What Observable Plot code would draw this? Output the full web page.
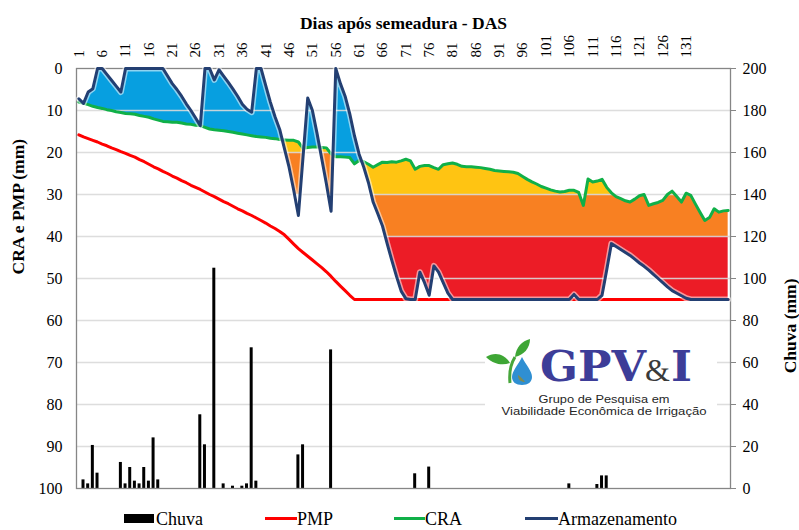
<!DOCTYPE html>
<html>
<head>
<meta charset="utf-8">
<script src="https://cdn.jsdelivr.net/npm/d3@7"></script>
<script src="https://cdn.jsdelivr.net/npm/@observablehq/plot@0.6"></script>
<style>
  body { margin: 0; background: #fff; }
  #wrap { position: relative; width: 799px; height: 530px; overflow: hidden; background: #fff;
          font-family: 'Liberation Serif', 'Times New Roman', serif; }
  #wrap svg.plot { position: absolute; left: 0; top: 0; }
  #logo { position: absolute; left: 485px; top: 337px; width: 232px; height: 84px; background: #fff; }
  .lt { position: absolute; top: 509px; font-size: 18px; line-height: 20px; color: #000; white-space: nowrap; }
  .lm { position: absolute; }
</style>
</head>
<body>
<div id="wrap"></div>
<script>
// ---------- data ----------
const dias = d3.range(1, 141); // Dias após semeadura (DAS)

const armazenamento = [
  7.2, 8.3, 5.6, 4.8, 0, 0, 1.4, 2.8, 4.2, 5.6,
  0, 0, 0, 0, 0, 0, 0, 0, 0, 1.8,
  3.6, 5.0, 6.6, 8.4, 10.0, 11.8, 13.6, 0, 0, 2.7,
  0.3, 1.8, 3.3, 4.9, 6.6, 8.5, 9.7, 10.4, 0, 0,
  4.0, 8.0, 11.5, 14.5, 19.0, 23.5, 29.0, 35.0, 21.0, 7.0,
  10.0, 15.5, 21.5, 27.5, 34.0, 0, 3.6, 6.6, 10.8, 16.0,
  20.4, 23.5, 27.2, 31.8, 34.6, 37.5, 41.7, 45.7, 49.5, 53.0,
  54.8, 55, 55, 48.5, 51.0, 54.0, 47.0, 48.5, 51.0, 53.5,
  55, 55, 55, 55, 55, 55, 55, 55, 55, 55,
  55, 55, 55, 55, 55, 55, 55, 55, 55, 55,
  55, 55, 55, 55, 55, 55, 53.8, 55, 55, 55,
  55, 55, 54.0, 48.0, 41.7, 42.4, 43.1, 43.8, 44.5, 45.4,
  46.3, 47.1, 48.0, 49.0, 50.0, 51.0, 52.0, 52.9, 53.5, 54.1,
  54.7, 55, 55, 55, 55, 55, 55, 55, 55, 55
];

const cra = [
  8.0, 8.3, 8.6, 9.0, 9.3, 9.5, 9.8, 10.0, 10.3, 10.5,
  10.7, 10.8, 10.9, 11.2, 11.4, 11.6, 12.0, 12.3, 12.6, 12.7,
  12.8, 12.8, 13.0, 13.2, 13.3, 13.5, 13.6, 14.0, 14.4, 14.6,
  14.7, 14.8, 15.0, 15.2, 15.4, 15.6, 15.8, 16.0, 16.2, 16.3,
  16.4, 16.6, 16.7, 16.9, 17.0, 17.1, 17.1, 17.5, 19.0, 18.8,
  18.7, 18.7, 18.8, 18.9, 20.3, 21.0, 21.0, 21.1, 21.2, 22.7,
  21.9, 22.2, 22.8, 23.5, 22.9, 22.3, 22.4, 22.2, 22.3, 22.0,
  21.6, 22.0, 24.0, 23.3, 23.1, 23.1, 23.6, 24.0, 22.9, 22.7,
  22.5, 22.8, 23.3, 23.4, 23.4, 23.5, 23.6, 23.8, 24.0, 24.3,
  24.4, 24.5, 24.6, 24.7, 25.0, 25.7, 26.4, 27.0, 27.5, 28.1,
  28.5, 28.9, 29.2, 29.4, 29.3, 29.0, 29.0, 29.5, 32.6, 26.3,
  27.0, 26.8, 26.4, 28.3, 29.6, 30.5, 31.0, 31.5, 31.8, 31.1,
  30.3, 30.0, 32.6, 32.2, 31.9, 31.4, 30.0, 29.2, 30.5, 31.8,
  29.7, 30.2, 32.3, 34.3, 36.2, 35.5, 33.4, 34.2, 33.9, 33.8
];

const pmp = [
  15.8, 16.3, 16.7, 17.1, 17.5, 18.0, 18.4, 18.9, 19.3, 19.8,
  20.2, 20.7, 21.1, 21.7, 22.2, 22.8, 23.4, 23.9, 24.5, 25.0,
  25.6, 26.1, 26.7, 27.2, 27.8, 28.3, 28.8, 29.4, 30.0, 30.5,
  31.1, 31.7, 32.2, 32.8, 33.4, 33.9, 34.5, 35.0, 35.6, 36.2,
  36.8, 37.5, 38.1, 38.8, 39.6, 40.7, 41.8, 42.9, 43.8, 44.7,
  45.6, 46.5, 47.4, 48.4, 49.5, 50.7, 51.8, 52.9, 54.0, 55,
  55, 55, 55, 55, 55, 55, 55, 55, 55, 55,
  55, 55, 55, 55, 55, 55, 55, 55, 55, 55,
  55, 55, 55, 55, 55, 55, 55, 55, 55, 55,
  55, 55, 55, 55, 55, 55, 55, 55, 55, 55,
  55, 55, 55, 55, 55, 55, 55, 55, 55, 55,
  55, 55, 55, 55, 55, 55, 55, 55, 55, 55,
  55, 55, 55, 55, 55, 55, 55, 55, 55, 55,
  55, 55, 55, 55, 55, 55, 55, 55, 55, 55
];

const chuvaDias = [2, 3, 4, 5, 10, 11, 12, 13, 14, 15, 16, 17, 18, 27, 28, 30, 32, 34, 36, 37, 38, 39, 48, 49, 55, 73, 76, 106, 112, 113, 114];
const chuvaMm   = [4.1, 2.2, 20.5, 7.3, 12.4, 2.2, 10, 3.5, 2.2, 10, 3.5, 24.1, 4.1, 35.1, 20.8, 104.9, 2.2, 1.1, 1.1, 2.2, 67, 3.5, 16, 20.8, 66, 7, 10.2, 2.2, 1.9, 6, 6];

// water-stress bands (mm, left axis): phase 1 up to day 57, phase 2 afterwards
const fimFase1 = 57;
const limAmarelo = [20, 30];
const limLaranja = [30, 40];

const ticksDAS = [1, 6, 11, 16, 21, 26, 31, 36, 41, 46, 51, 56, 61, 66, 71, 76, 81, 86, 91, 96, 101, 106, 111, 116, 121, 126, 131];
const ticksEsq = [0, 10, 20, 30, 40, 50, 60, 70, 80, 90, 100];
const ticksDir = [0, 20, 40, 60, 80, 100, 120, 140, 160, 180, 200];

// ---------- derived tables ----------
const serie = dias.map((d, i) => ({dia: d, arm: armazenamento[i], cra: cra[i], pmp: pmp[i]}));
const chuva = chuvaDias.map((d, i) => ({dia: d, mm: chuvaMm[i]}));
const chuvaParaEsq = mm => 100 - mm / 2; // right axis (0–200, up) onto left axis (0–100, down)

// fill geometry: split each daily segment where lines cross, so the fills follow the lines
const rows = [];
for (let i = 0; i < dias.length; i++) {
  const ts = [0];
  const j = Math.min(i + 1, dias.length - 1);
  if (i < dias.length - 1) {
    const f = dias[i] <= fimFase1 ? 0 : 1;
    const fns = [armazenamento, cra, pmp].map(a => [a[i], a[j]]);
    fns.push([limAmarelo[f], limAmarelo[f]], [limLaranja[f], limLaranja[f]]);
    for (let a = 0; a < fns.length; a++) for (let b = a + 1; b < fns.length; b++) {
      const f0 = fns[a][0] - fns[b][0], f1 = fns[a][1] - fns[b][1];
      if (f0 * f1 < 0) ts.push(f0 / (f0 - f1));
    }
    ts.sort((p, q) => p - q);
  }
  for (const t of ts) {
    const L = a => a[i] + (a[j] - a[i]) * t;
    rows.push({x: dias[i] + t, A: L(armazenamento), C: L(cra), P: L(pmp)});
  }
}
const bands = rows.map(r => {
  const f = r.x <= fimFase1 + 0.5 ? 0 : 1;
  const t1 = limAmarelo[f], t2 = limLaranja[f], piso = f === 0 ? t2 : r.P;
  const yLo = r.C, yHi = Math.max(r.C, Math.min(r.A, t1));
  const oLo = Math.max(r.C, t1), oHi = Math.max(oLo, Math.min(r.A, t2));
  const rLo = Math.max(r.C, t2), rHi = Math.max(rLo, Math.min(r.A, piso));
  return {x: r.x, bLo: Math.min(r.A, r.C), bHi: r.C, yLo, yHi, oLo, oHi, rLo, rHi};
});

const serif = "'Liberation Serif', 'Times New Roman', serif";

const chart = Plot.plot({
  width: 799,
  height: 500,
  marginTop: 68,
  marginBottom: 12,
  marginLeft: 76,
  marginRight: 69,
  x: {domain: [0.5, 140.5], axis: null},
  y: {domain: [0, 100], reverse: true, axis: null},
  style: {fontFamily: serif, fontSize: "16px", color: "#000", background: "transparent", overflow: "visible"},
  marks: [
    // fills
    Plot.areaY(bands, {x: "x", y1: "bLo", y2: "bHi", fill: "#079fe0"}),
    Plot.areaY(bands, {x: "x", y1: "yLo", y2: "yHi", fill: "#ffc412"}),
    Plot.areaY(bands, {x: "x", y1: "oLo", y2: "oHi", fill: "#f88022"}),
    Plot.areaY(bands, {x: "x", y1: "rLo", y2: "rHi", fill: "#ec1c26"}),
    // grid
    Plot.gridY(ticksEsq.filter(v => v > 0 && v < 100), {stroke: "#d9d9d9", strokeOpacity: 0.9, strokeWidth: 1.3}),
    // rain bars
    Plot.rect(chuva, {x1: d => d.dia - 0.32, x2: d => d.dia + 0.32, y1: () => 100, y2: d => chuvaParaEsq(d.mm), fill: "#000"}),
    Plot.frame({stroke: "#868686", strokeWidth: 1.3}),
    // lines
    Plot.line(serie, {x: "dia", y: "pmp", stroke: "#ff0000", strokeWidth: 3, strokeLinejoin: "round"}),
    Plot.line(serie, {x: "dia", y: "cra", stroke: "#10b048", strokeWidth: 3, strokeLinejoin: "round"}),
    Plot.line(serie, {x: "dia", y: "arm", stroke: "#ffffff", strokeOpacity: 0.55, strokeWidth: 6, strokeLinejoin: "round"}),
    Plot.line(serie, {x: "dia", y: "arm", stroke: "#233f72", strokeWidth: 3, strokeLinejoin: "round"}),
    // axes
    Plot.text(ticksDAS, {x: d => d, frameAnchor: "top", dy: -11, rotate: -90, textAnchor: "start", lineAnchor: "middle", fontSize: 15, fill: "#000"}),
    Plot.axisY(ticksEsq, {anchor: "left", tickSize: 0, tickPadding: 14, label: null}),
    Plot.axisY(ticksDir.map(chuvaParaEsq), {anchor: "right", tickSize: 5, tickPadding: 7, stroke: "#868686",
      tickFormat: v => String(Math.round((100 - v) * 2)), label: null}),
    // titles
    Plot.text(["Dias após semeadura - DAS"], {frameAnchor: "top", dy: -52, fontWeight: "bold", fontSize: 17.5}),
    Plot.text(["CRA e PMP (mm)"], {frameAnchor: "left", dx: -58, dy: -4, rotate: -90, fontWeight: "bold", fontSize: 17.5}),
    Plot.text(["Chuva (mm)"], {frameAnchor: "right", dx: 60, rotate: -90, fontWeight: "bold", fontSize: 17.5})
  ]
});
chart.classList.add("plot");
const wrap = document.getElementById("wrap");
wrap.append(chart);

// logo (decorative)
const logo = document.createElement("div");
logo.id = "logo";
logo.innerHTML = `<svg width="232" height="84" viewBox="0 0 232 84">
  <path d="M25 46 C24 36 25 28 30 20" stroke="#47a63b" stroke-width="3" fill="none"/>
  <path d="M25 26 C19 16 9 15 1 20 C8 27 17 29 25 26 Z" fill="#3ea635"/>
  <path d="M30 20 C31 10 37 4 45 2 C45 11 39 18 30 20 Z" fill="#3ea635"/>
  <path d="M37 20 C41 28 47 34 47 40 C47 45 43 48 37 48 C31 48 27 45 27 40 C27 34 33 28 37 20 Z" fill="#2f8fd2"/>
  <path d="M33 38 C33 43 36 45 40 45 C38 42 36 40 33 38 Z" fill="#7d8a55"/>
  <text x="55" y="44" font-family="'DejaVu Serif', serif" font-weight="bold" font-size="42" fill="#3d3d98" textLength="106" lengthAdjust="spacingAndGlyphs">GPV</text>
  <text x="160" y="44" font-family="'Liberation Serif', serif" font-size="32" fill="#3a3a3a">&amp;</text>
  <text x="186" y="44" font-family="'DejaVu Serif', serif" font-weight="bold" font-size="42" fill="#3d3d98" textLength="21" lengthAdjust="spacingAndGlyphs">I</text>
  <text x="119" y="65.5" text-anchor="middle" font-family="'Liberation Sans', Arial, sans-serif" font-size="11.5" fill="#262626" textLength="131" lengthAdjust="spacingAndGlyphs">Grupo de Pesquisa em</text>
  <text x="119" y="77.5" text-anchor="middle" font-family="'Liberation Sans', Arial, sans-serif" font-size="11.5" fill="#262626" textLength="205" lengthAdjust="spacingAndGlyphs">Viabilidade Econômica de Irrigação</text>
</svg>`;
wrap.append(logo);

// legend
const legenda = [
  {nome: "Chuva", cor: "#000", tipo: "caixa", mx: 124, tx: 156},
  {nome: "PMP", cor: "#ff0000", tipo: "linha", mx: 265, tx: 297},
  {nome: "CRA", cor: "#10b048", tipo: "linha", mx: 394, tx: 425},
  {nome: "Armazenamento", cor: "#233f72", tipo: "linha", mx: 525, tx: 558}
];
for (const it of legenda) {
  const m = document.createElement("div");
  m.className = "lm";
  if (it.tipo === "caixa") {
    Object.assign(m.style, {left: it.mx + "px", top: "514px", width: "30px", height: "9px", background: it.cor});
  } else {
    Object.assign(m.style, {left: it.mx + "px", top: "517px", width: (it.tx - it.mx) + "px", height: "3px", background: it.cor});
  }
  wrap.append(m);
  const t = document.createElement("div");
  t.className = "lt";
  t.style.left = it.tx + "px";
  t.textContent = it.nome;
  wrap.append(t);
}
</script>
</body>
</html>
